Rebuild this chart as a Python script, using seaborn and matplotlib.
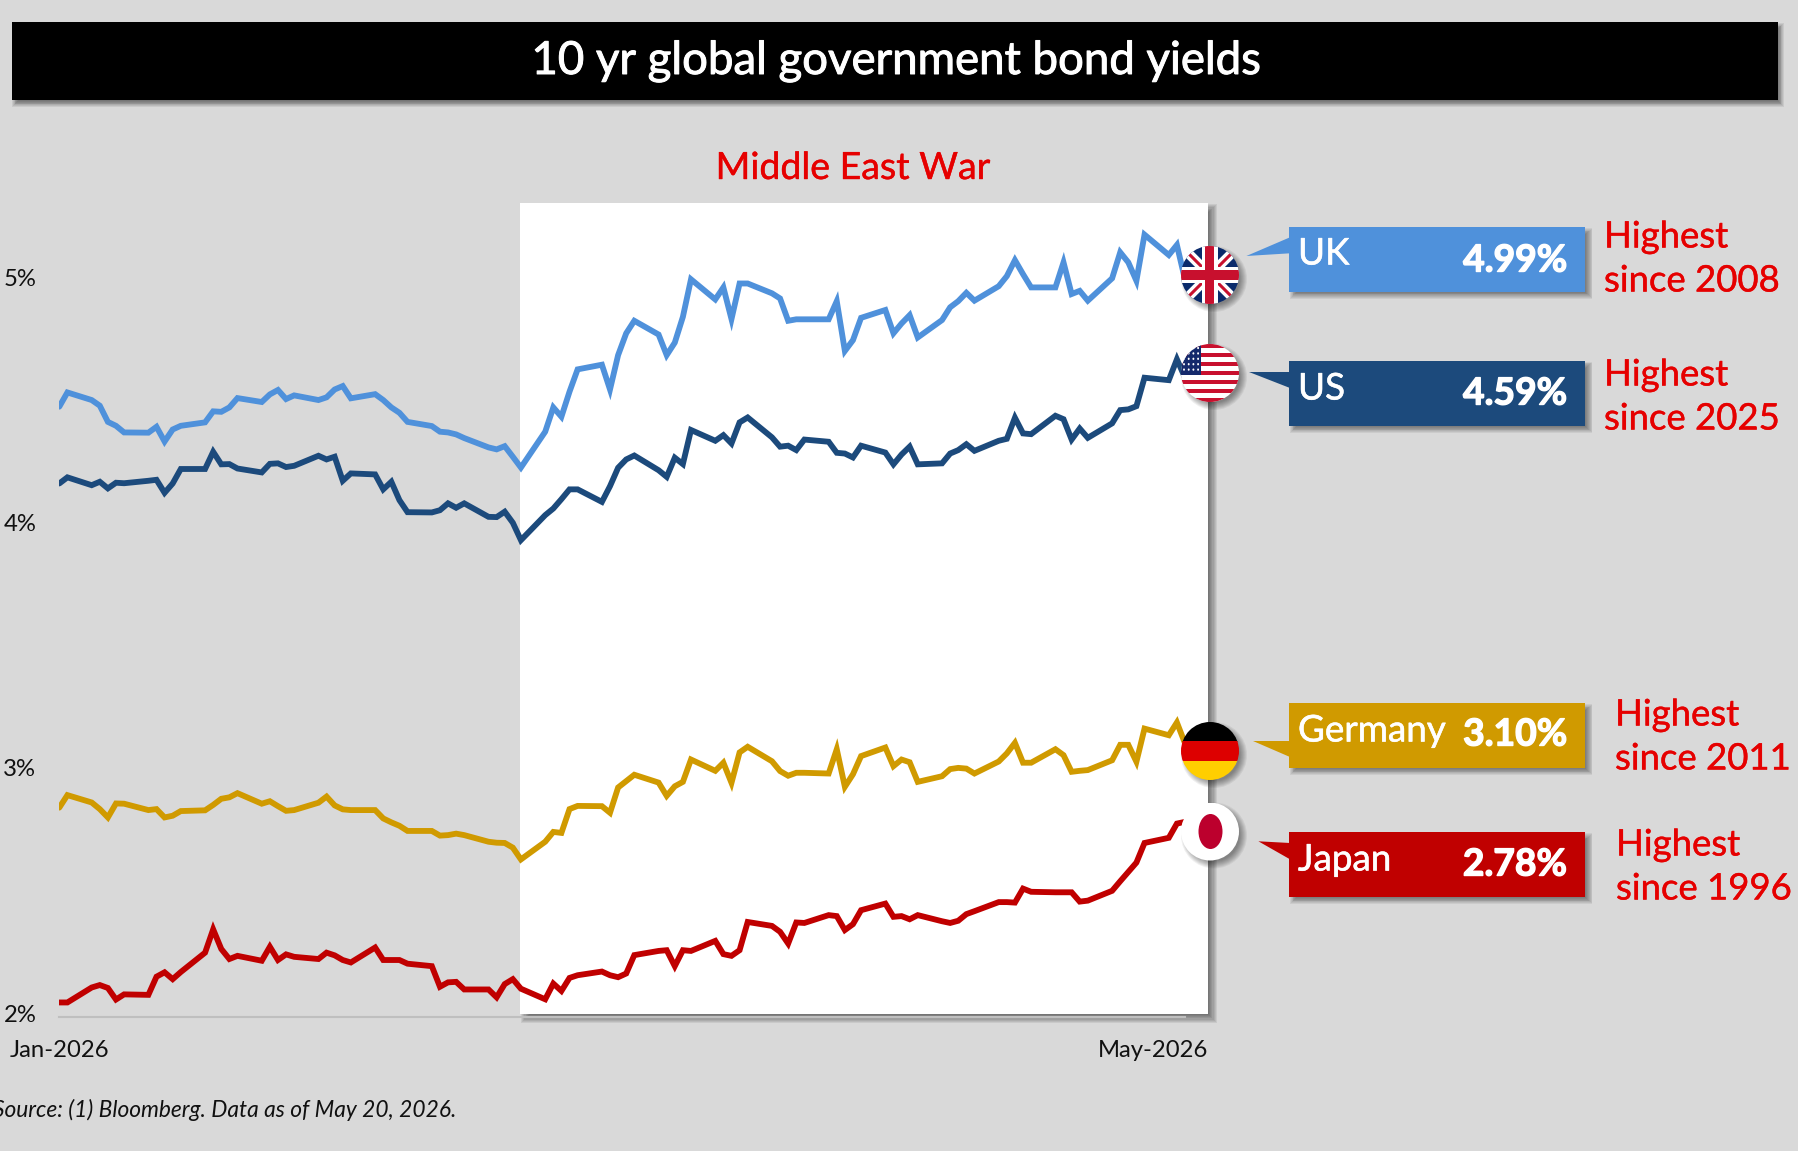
import numpy as np
import pandas as pd
import matplotlib
matplotlib.use("Agg")
import matplotlib.pyplot as plt
import matplotlib.patheffects as pe
from matplotlib.patches import Rectangle, Circle, Ellipse, Polygon
import seaborn as sns

# Business-day closes, Jan 1 to May 20, 2026 (%)
start_date = "2026-01-01"
end_date = "2026-05-20"

uk_yield = [4.472, 4.530, 4.499, 4.476, 4.410, 4.394, 4.367, 4.366, 4.390, 4.330,
            4.379, 4.394, 4.408, 4.453, 4.451, 4.469, 4.507, 4.491, 4.522, 4.540,
            4.503, 4.518, 4.499, 4.510, 4.542, 4.556, 4.506, 4.523, 4.499, 4.469,
            4.447, 4.410, 4.393, 4.370, 4.367, 4.359, 4.344, 4.306, 4.298, 4.311,
            4.268, 4.224, 4.370, 4.469, 4.431, 4.533, 4.624, 4.643, 4.542, 4.682,
            4.771, 4.822, 4.766, 4.682, 4.733, 4.838, 4.991, 4.909, 4.958, 4.829,
            4.974, 4.974, 4.934, 4.913, 4.822, 4.828, 4.828, 4.828, 4.902, 4.699,
            4.743, 4.834, 4.866, 4.771, 4.811, 4.845, 4.754, 4.825, 4.877, 4.902,
            4.936, 4.904, 4.963, 5.004, 5.069, 5.012, 4.958, 4.958, 5.060, 4.931,
            4.944, 4.904, 4.995, 5.101, 5.060, 4.985, 5.173, 5.090, 5.131, 4.990]

us_yield = [4.159, 4.184, 4.152, 4.166, 4.139, 4.162, 4.160, 4.170, 4.174, 4.121,
            4.159, 4.218, 4.218, 4.288, 4.237, 4.238, 4.220, 4.204, 4.239, 4.241,
            4.226, 4.231, 4.272, 4.257, 4.268, 4.170, 4.200, 4.196, 4.135, 4.166,
            4.091, 4.042, 4.041, 4.050, 4.078, 4.060, 4.078, 4.023, 4.022, 4.044,
            3.999, 3.928, 4.030, 4.057, 4.095, 4.135, 4.135, 4.084, 4.148, 4.223,
            4.257, 4.273, 4.213, 4.186, 4.264, 4.238, 4.377, 4.333, 4.356, 4.322,
            4.408, 4.428, 4.347, 4.309, 4.313, 4.295, 4.338, 4.329, 4.284, 4.281,
            4.265, 4.313, 4.285, 4.237, 4.277, 4.309, 4.237, 4.241, 4.281, 4.295,
            4.319, 4.292, 4.333, 4.341, 4.427, 4.363, 4.360, 4.435, 4.421, 4.338,
            4.383, 4.345, 4.404, 4.458, 4.461, 4.474, 4.590, 4.580, 4.665, 4.590]

germany_yield = [2.838, 2.889, 2.859, 2.832, 2.798, 2.855, 2.854, 2.828, 2.832, 2.798,
                 2.805, 2.824, 2.827, 2.849, 2.874, 2.880, 2.897, 2.854, 2.864, 2.844,
                 2.825, 2.828, 2.858, 2.883, 2.847, 2.831, 2.828, 2.828, 2.794, 2.778,
                 2.764, 2.743, 2.743, 2.724, 2.726, 2.732, 2.726, 2.699, 2.695, 2.694,
                 2.675, 2.627, 2.699, 2.739, 2.735, 2.832, 2.845, 2.844, 2.817, 2.920,
                 2.946, 2.972, 2.940, 2.886, 2.925, 2.943, 3.034, 2.988, 3.021, 2.939,
                 3.063, 3.086, 3.027, 2.987, 2.968, 2.980, 2.980, 2.977, 3.076, 2.923,
                 2.974, 3.048, 3.083, 3.007, 3.034, 3.023, 2.943, 2.966, 2.995, 3.000,
                 2.997, 2.977, 3.026, 3.059, 3.102, 3.021, 3.021, 3.076, 3.052, 2.984,
                 2.988, 2.991, 3.031, 3.094, 3.094, 3.025, 3.160, 3.133, 3.185, 3.100]

japan_yield = [2.044, 2.044, 2.105, 2.115, 2.103, 2.056, 2.077, 2.075, 2.149, 2.167,
               2.139, 2.168, 2.247, 2.342, 2.262, 2.221, 2.234, 2.214, 2.271, 2.217,
               2.240, 2.230, 2.221, 2.247, 2.236, 2.217, 2.207, 2.268, 2.217, 2.217,
               2.217, 2.202, 2.192, 2.108, 2.126, 2.128, 2.097, 2.097, 2.065, 2.119,
               2.139, 2.100, 2.057, 2.121, 2.091, 2.144, 2.155, 2.170, 2.155, 2.147,
               2.162, 2.237, 2.254, 2.257, 2.192, 2.257, 2.254, 2.295, 2.241, 2.234,
               2.257, 2.372, 2.356, 2.332, 2.284, 2.370, 2.368, 2.400, 2.396, 2.339,
               2.363, 2.420, 2.447, 2.393, 2.396, 2.383, 2.400, 2.375, 2.368, 2.377,
               2.404, 2.416, 2.453, 2.453, 2.451, 2.508, 2.495, 2.493, 2.493, 2.493,
               2.455, 2.459, 2.499, 2.538, 2.576, 2.614, 2.694, 2.715, 2.773, 2.780]

countries = ["UK", "US", "Germany", "Japan"]
latest_labels = ["4.99%", "4.59%", "3.10%", "2.78%"]
since_labels = ["Highest\nsince 2008", "Highest\nsince 2025", "Highest\nsince 2011", "Highest\nsince 1996"]
y_ticks = [2, 3, 4, 5]
y_tick_labels = ["2%", "3%", "4%", "5%"]
x_ticks = ["2026-01-01", "2026-05-16"]
x_tick_labels = ["Jan-2026", "May-2026"]
title_text = "10 yr global government bond yields"
war_text = "Middle East War"
source_text = "Source: (1) Bloomberg. Data as of May 20, 2026."

BG = "#D9D9D9"
RED_TEXT = "#E60000"
palette = {"UK": "#4F91DB", "US": "#1C4A7C", "Germany": "#D09A00", "Japan": "#C00000"}

W, H = 1799, 1151
sns.set_theme(style="white", rc={"figure.facecolor": BG, "savefig.facecolor": BG})
plt.rcParams["font.family"] = ["Lato", "DejaVu Sans"]

fig = plt.figure(figsize=(W / 100, H / 100), dpi=100)
heavier = [pe.withStroke(linewidth=0.7, foreground="white")]
heavier_red = [pe.withStroke(linewidth=0.3, foreground=RED_TEXT)]


def px_axes(z):
    a = fig.add_axes([0, 0, 1, 1], zorder=z)
    a.set_xlim(0, W)
    a.set_ylim(H, 0)
    a.axis("off")
    a.patch.set_alpha(0)
    return a


under = px_axes(0)
over = px_axes(2)


def soft_rect(a, x0, y0, x1, y1, dx=5, dy=6, blur=5, strength=0.55, z=1):
    # Stacked translucent rectangles give a soft drop shadow
    n = 8
    for i in range(n):
        g = blur - 2 * blur * i / (n - 1)
        a.add_patch(Rectangle((x0 + dx - g, y0 + dy - g), x1 - x0 + 2 * g, y1 - y0 + 2 * g,
                              fc="black", ec="none", alpha=strength / n, zorder=z))


# Title band
soft_rect(under, 12, 22, 1778, 100, dx=3, dy=4, blur=3)
under.add_patch(Rectangle((12, 22), 1766, 78, fc="black", ec="none", zorder=2))
under.text(896, 61, title_text, color="white", fontsize=32.8, ha="center", va="center",
           zorder=3, path_effects=heavier)

# Highlighted period
soft_rect(under, 520, 203, 1208, 1014, dx=5, dy=5, blur=4, strength=0.55)
under.add_patch(Rectangle((520, 203), 688, 811, fc="white", ec="none", zorder=2))
under.text(853, 168, war_text, color=RED_TEXT, fontsize=27, ha="center", va="center",
           zorder=3, path_effects=heavier_red)

# Line chart
left, right, top, bottom = 59.3, 1185, 203, 1016.7
ax = fig.add_axes([left / W, 1 - bottom / H, (right - left) / W, (bottom - top) / H], zorder=1)
ax.patch.set_alpha(0)

dates = pd.bdate_range(start_date, end_date)
frame = pd.DataFrame({
    "date": np.tile(dates, 4),
    "yield": uk_yield + us_yield + germany_yield + japan_yield,
    "country": np.repeat(countries, len(dates)),
})
sns.lineplot(data=frame, x="date", y="yield", hue="country", palette=palette,
             linewidth=4.2, legend=False, ax=ax, solid_joinstyle="miter")

ax.set_xlim(dates[0], dates[-1])
ax.set_ylim(1.986, 5.302)
ax.set_xlabel("")
ax.set_ylabel("")
ax.set_yticks(y_ticks, y_tick_labels)
ax.set_xticks(pd.to_datetime(x_ticks), x_tick_labels)
ax.tick_params(axis="y", length=0, pad=16.5, labelsize=17.2, labelcolor="#111111")
ax.tick_params(axis="x", length=0, pad=16.5, labelsize=17.2, labelcolor="#111111")
for name in ["top", "left", "right"]:
    ax.spines[name].set_visible(False)
ax.spines["bottom"].set_color("#BFBFBF")
ax.spines["bottom"].set_linewidth(1.5)

# Flags sit over the line ends
R = 29


def flag_base(cy):
    cx = 1210
    for i in range(8):
        over.add_patch(Circle((cx + 4, cy + 4), R + 4 - i, fc="black", ec="none", alpha=0.06, zorder=1))
    disc = Circle((cx, cy), R, transform=over.transData, fc="none", ec="none", zorder=9)
    over.add_patch(disc)
    return cx, disc


def clipped(artist, disc):
    over.add_patch(artist)
    artist.set_clip_path(disc)
    return artist


# United Kingdom
cy = 275
cx, disc = flag_base(cy)
clipped(Rectangle((cx - R, cy - R), 2 * R, 2 * R, fc="#0A2A6B", ec="none", zorder=2), disc)
for sgn in (1, -1):
    over.plot([cx - R, cx + R], [cy - sgn * R, cy + sgn * R], color="white", lw=7, zorder=3, solid_capstyle="butt", clip_path=disc)
    over.plot([cx - R, cx + R], [cy - sgn * R, cy + sgn * R], color="#C8102E", lw=2.2, zorder=4, solid_capstyle="butt", clip_path=disc)
clipped(Rectangle((cx - 8, cy - R), 16, 2 * R, fc="white", ec="none", zorder=5), disc)
clipped(Rectangle((cx - R, cy - 8), 2 * R, 16, fc="white", ec="none", zorder=5), disc)
clipped(Rectangle((cx - 4.5, cy - R), 9, 2 * R, fc="#C8102E", ec="none", zorder=6), disc)
clipped(Rectangle((cx - R, cy - 5), 2 * R, 10, fc="#C8102E", ec="none", zorder=6), disc)

# United States
cy = 373
cx, disc = flag_base(cy)
clipped(Rectangle((cx - R, cy - R), 2 * R, 2 * R, fc="white", ec="none", zorder=2), disc)
stripe = 2 * R / 13
for i in range(0, 13, 2):
    clipped(Rectangle((cx - R, cy - R + i * stripe), 2 * R, stripe, fc="#C8102E", ec="none", zorder=3), disc)
clipped(Rectangle((cx - R, cy - R), 20, 7 * stripe, fc="#14296B", ec="none", zorder=4), disc)
for row in range(5):
    for col in range(4):
        clipped(Ellipse((cx - R + 3 + col * 4.7, cy - R + 4 + row * 5.4), 1.9, 2.3, fc="white", ec="none", zorder=5), disc)

# Germany
cy = 751
cx, disc = flag_base(cy)
for i, c in enumerate(["black", "#DD0000", "#FFCE00"]):
    clipped(Rectangle((cx - R, cy - R + i * 2 * R / 3), 2 * R, 2 * R / 3 + 0.5, fc=c, ec="none", zorder=2 + i), disc)

# Japan
cy = 831.5
cx, disc = flag_base(cy)
clipped(Rectangle((cx - R, cy - R), 2 * R, 2 * R, fc="white", ec="none", zorder=2), disc)
over.add_patch(Ellipse((cx + 0.5, cy), 24, 35, fc="#BC002D", ec="none", zorder=3))

# Callout boxes: rectangle, pointer, name, value, note
boxes = {
    "UK": dict(rect=(1289, 227, 1585.4, 291.7), tip=(1246.4, 256), base=(237.3, 253.3),
               name_y=254, val_y=261, note_x=1604, note_y=(237, 281)),
    "US": dict(rect=(1289, 360.7, 1585.4, 426), tip=(1249.3, 371.7), base=(371.7, 388.3),
               name_y=389, val_y=394, note_x=1604, note_y=(375, 419)),
    "Germany": dict(rect=(1289, 703, 1585.4, 768), tip=(1252.6, 741.3), base=(741.3, 757.3),
                    name_y=731, val_y=735, note_x=1615, note_y=(715, 759)),
    "Japan": dict(rect=(1289, 832.3, 1585.4, 897), tip=(1258.4, 841.3), base=(843, 859.3),
                  name_y=860, val_y=865, note_x=1616, note_y=(845, 889)),
}
for country, value, note in zip(countries, latest_labels, since_labels):
    b = boxes[country]
    x0, y0, x1, y1 = b["rect"]
    col = palette[country]
    soft_rect(over, x0, y0, x1, y1, dx=4, dy=4, blur=3, strength=0.5, z=1)
    over.add_patch(Polygon([b["tip"], (x0 + 1, b["base"][0]), (x0 + 1, b["base"][1])], fc=col, ec="none", zorder=3))
    over.add_patch(Rectangle((x0, y0), x1 - x0, y1 - y0, fc=col, ec="none", zorder=3))
    over.text(1298, b["name_y"], country, color="white", fontsize=26.5, ha="left", va="center",
              zorder=4, path_effects=[pe.withStroke(linewidth=0.4, foreground="white")])
    over.text(1567, b["val_y"], value, color="white", fontsize=26.8, fontweight="bold",
              ha="right", va="center", zorder=4,
              path_effects=[pe.withStroke(linewidth=1.0, foreground="white")])
    for line, yy in zip(note.split("\n"), b["note_y"]):
        over.text(b["note_x"], yy, line, color=RED_TEXT, fontsize=26.3, ha="left", va="center",
                  zorder=4, path_effects=heavier_red)

over.text(456.5, 1110, source_text, color="#111111", fontsize=16.4, fontstyle="italic", ha="right", va="center")

fig.savefig("out.png", dpi=100)
